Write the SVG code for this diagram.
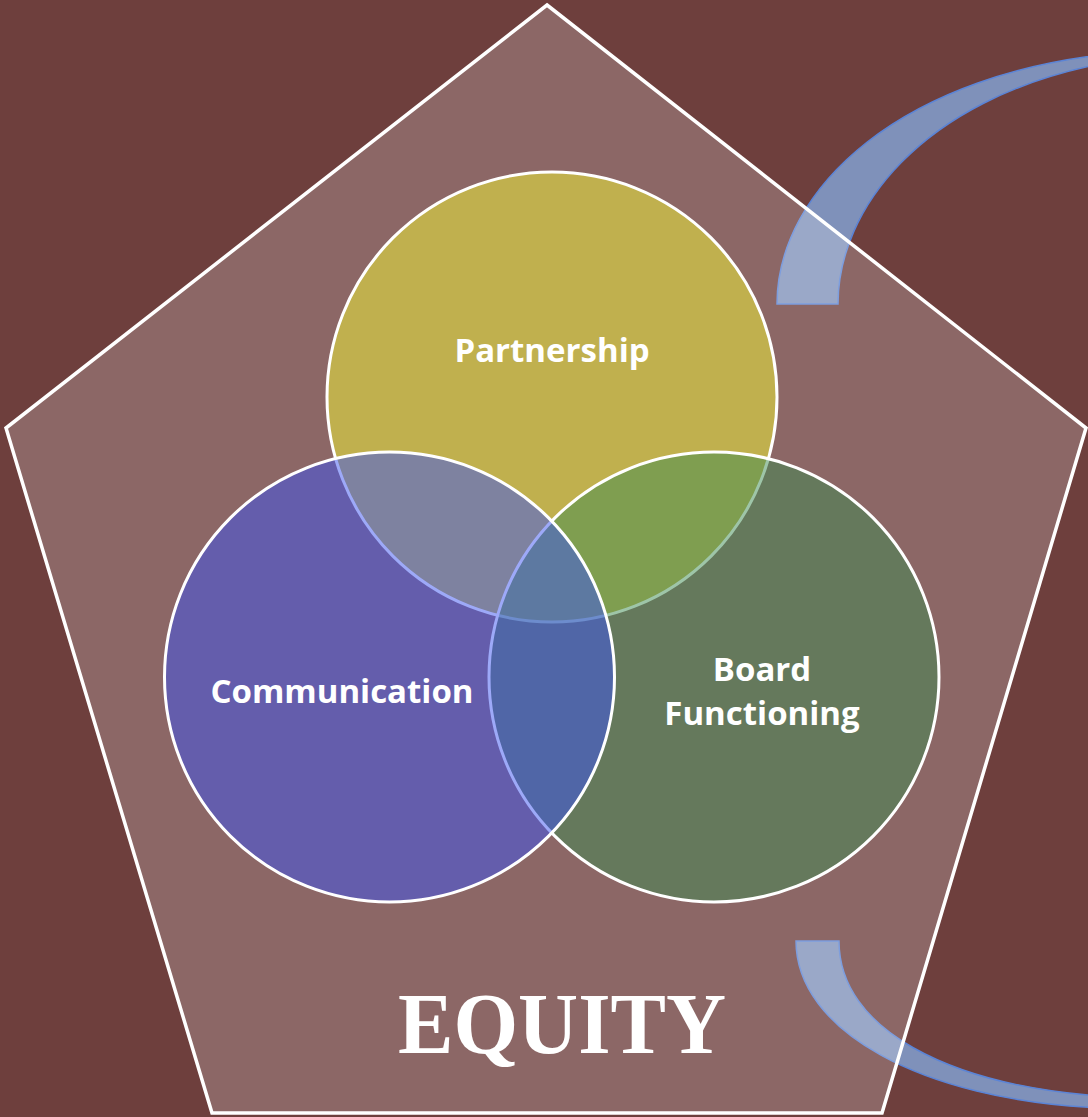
<svg xmlns="http://www.w3.org/2000/svg" width="1088" height="1117" viewBox="0 0 1088 1117">
<style>
.lbl{font-family:"Open Sans","Noto Sans","Liberation Sans",sans-serif;font-weight:bold;font-size:33px;fill:#ffffff;text-anchor:middle}
.venn{stroke:#ffffff;stroke-width:3}
.arc{fill:#7F91BA;stroke:#5B84D6;stroke-width:1.5}
</style>
<rect width="1088" height="1117" fill="#6E3F3D"/>
<g id="arc-top">
<path class="arc" d="M 777,304 C 777,190 900,70 1130,52 L 1100,64 C 920,100 838,210 838,304 Z"/>
</g>
<g id="arc-bottom">
<path class="arc" d="M 796,941 C 796,1030 920,1100 1100,1108 L 1100,1096 C 950,1085 839,1030 839,941 Z"/>
</g>
<g id="pentagon">
<polygon points="547,5 1086,428 882,1113 212,1113 6,428" fill="#ffffff" fill-opacity="0.21" stroke="#ffffff" stroke-width="3.5" stroke-linejoin="miter"/>
</g>
<g id="partnership">
<circle class="venn" cx="552" cy="397" r="225" fill="#C0B04E"/>
</g>
<g id="board-functioning">
<circle class="venn" cx="714" cy="677" r="225" fill="#3D8C51" fill-opacity="0.5"/>
</g>
<g id="communication">
<circle class="venn" cx="389.5" cy="677" r="225" fill="#3B54F1" fill-opacity="0.5"/>
</g>
<g id="labels">
<text class="lbl" x="552" y="362">Partnership</text>
<text class="lbl" x="342" y="703">Communication</text>
<text class="lbl" x="762" y="681">Board</text>
<text class="lbl" x="762" y="725">Functioning</text>
</g>
<g id="equity">
<text x="562" y="1053" font-family="'Liberation Serif',serif" font-weight="bold" font-size="86" fill="#ffffff" text-anchor="middle" textLength="328" lengthAdjust="spacingAndGlyphs">EQUITY</text>
</g>
</svg>
